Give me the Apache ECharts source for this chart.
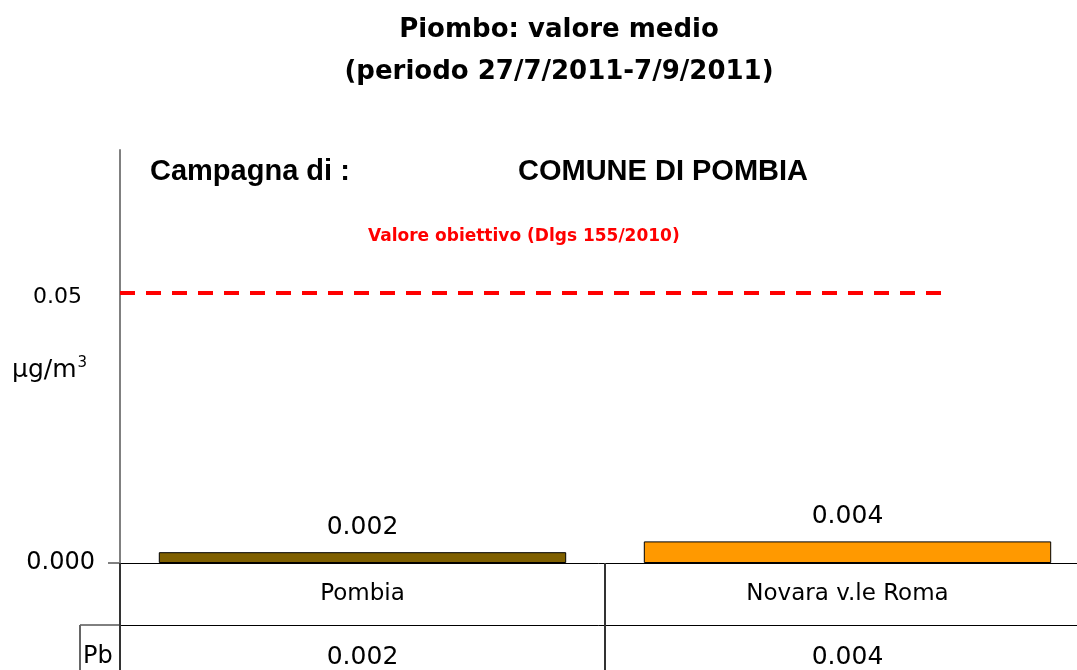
<!DOCTYPE html>
<html>
<head>
<meta charset="utf-8">
<script src="https://cdn.jsdelivr.net/npm/echarts@6/dist/echarts.min.js"></script>
<style>
  html, body { margin: 0; padding: 0; background: #fff; }
  #chart { width: 1077px; height: 670px; }
</style>
</head>
<body>
<div id="chart"></div>
<script>
const categories = ['Pombia', 'Novara v.le Roma'];
const pbValues = [0.002, 0.004];
const targetValue = 0.05;
const yTicks = [0, 0.05];
const yTickLabels = ['0.000', '0.05'];
const barColors = ['#7f6000', '#ff9900'];

const drawChart = () => {
  const dom = document.getElementById('chart');
  const myChart = echarts.init(dom);
  const comic = 'DejaVu Sans';

  const option = {
    backgroundColor: '#fff',
    animation: false,
    title: {
      text: 'Piombo: valore medio\n(periodo 27/7/2011-7/9/2011)',
      left: 554,
      top: 4,
      textAlign: 'center',
      textStyle: {
        fontFamily: 'DejaVu Sans',
        fontWeight: 'bold',
        fontSize: 26,
        lineHeight: 42,
        color: '#000'
      }
    },
    grid: {
      left: 120, right: -13, top: 150, bottom: 107,
      containLabel: false, outerBoundsMode: 'none'
    },
    xAxis: [
      {
        type: 'category',
        data: categories,
        axisLine: { lineStyle: { color: '#000', width: 1 } },
        axisTick: { show: true, length: 107, lineStyle: { color: '#333', width: 2 } },
        axisLabel: { fontFamily: comic, fontSize: 23, color: '#000', margin: 20 }
      },
      {
        type: 'category',
        data: categories,
        position: 'bottom',
        offset: 62,
        axisLine: { lineStyle: { color: '#000', width: 1 } },
        axisTick: { show: false },
        axisLabel: {
          fontFamily: comic, fontSize: 25, color: '#000', margin: 20,
          formatter: (v, i) => pbValues[i].toFixed(3)
        }
      },
      { type: 'value', min: 0, max: 1, show: false }
    ],
    yAxis: {
      type: 'value',
      min: 0,
      max: 0.0765,
      interval: 0.05,
      showMaxLabel: false,
      axisLine: { show: true, lineStyle: { color: '#808080', width: 2 } },
      axisTick: { show: false },
      splitLine: { show: false },
      axisLabel: {
        margin: 25,
        formatter(v) {
          const i = yTicks.findIndex(t => Math.abs(t - v) < 1e-9);
          if (i < 0) return '';
          return i === 0 ? `{a|${yTickLabels[i]}}` : `{b|${yTickLabels[i]}}`;
        },
        rich: {
          a: { fontFamily: comic, fontSize: 24, color: '#000' },
          b: { fontFamily: comic, fontSize: 22, color: '#000', padding: [8, 13, 0, 0] }
        }
      }
    },
    series: [
      {
        type: 'bar',
        xAxisIndex: 0,
        barCategoryGap: '16%',
        data: pbValues.map((v, i) => ({
          value: v,
          itemStyle: { color: barColors[i], borderColor: '#000', borderWidth: 1 }
        })),
        label: {
          show: true,
          position: 'top',
          distance: 12,
          fontFamily: comic,
          fontSize: 25,
          color: '#000',
          formatter: p => p.value.toFixed(3)
        }
      },
      {
        type: 'line',
        xAxisIndex: 2,
        data: [[0, targetValue], [0.85, targetValue]],
        symbol: 'none',
        lineStyle: { color: '#ff0000', width: 4, type: [15, 11] }
      }
    ],
    graphic: [
      {
        type: 'text', left: 150, top: 157,
        style: { text: 'Campagna di :', font: 'bold 29px "Liberation Sans"', fill: '#000' }
      },
      {
        type: 'text', left: 518, top: 157,
        style: { text: 'COMUNE DI POMBIA', font: 'bold 29px "Liberation Sans"', fill: '#000' }
      },
      {
        type: 'text', left: 368, top: 228,
        style: { text: 'Valore obiettivo (Dlgs 155/2010)', font: 'bold 17px "DejaVu Sans"', fill: '#ff0000' }
      },
      {
        type: 'text', left: 12, top: 356,
        style: {
          text: '{a|μg/m}{s|3}',
          rich: {
            a: { fontFamily: comic, fontSize: 25, color: '#000' },
            s: { fontFamily: comic, fontSize: 15, color: '#000', verticalAlign: 'top', padding: [0, 0, 14, 1] }
          }
        }
      },
      {
        type: 'text', left: 83, top: 645,
        style: { text: 'Pb', font: '24px "DejaVu Sans"', fill: '#000' }
      },
      {
        type: 'line',
        shape: { x1: 80, y1: 625, x2: 120, y2: 625 },
        style: { stroke: '#000', lineWidth: 1 }
      },
      {
        type: 'line',
        shape: { x1: 80, y1: 625, x2: 80, y2: 670 },
        style: { stroke: '#666', lineWidth: 2 }
      },
      {
        type: 'line',
        shape: { x1: 108, y1: 563, x2: 120, y2: 563 },
        style: { stroke: '#000', lineWidth: 1 }
      }
    ]
  };

  myChart.setOption(option);
};

window.onload = function () {
  drawChart();
};
</script>
</body>
</html>
